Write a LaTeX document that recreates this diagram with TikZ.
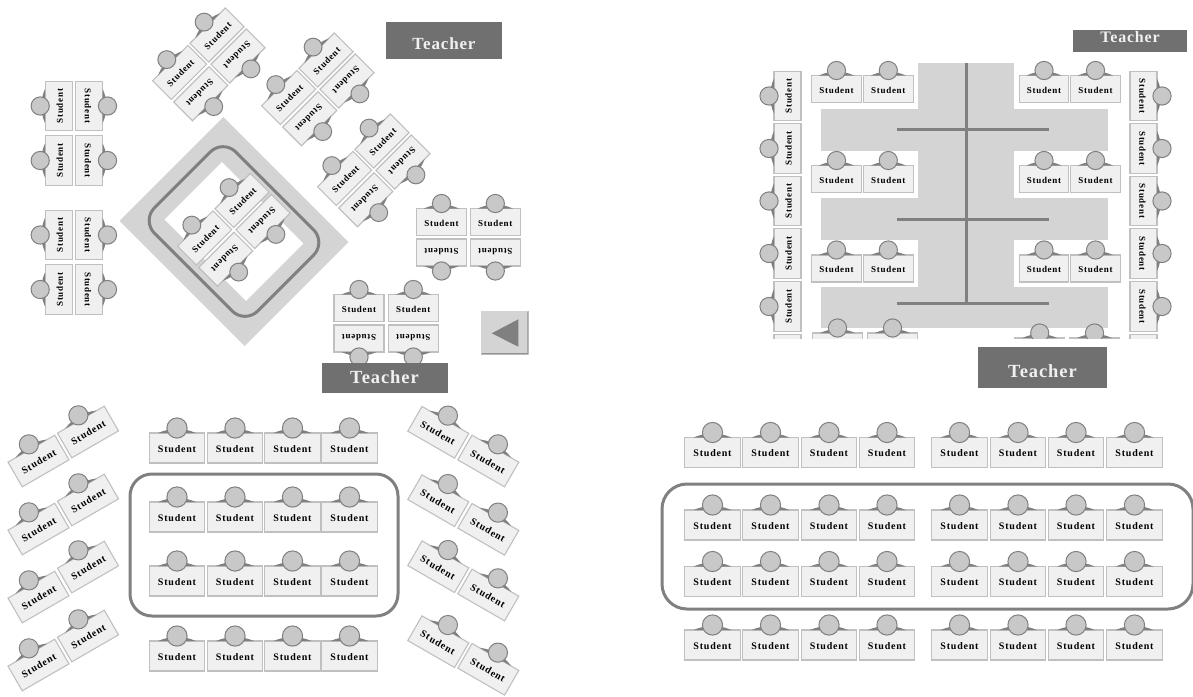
\documentclass[tikz,border=0pt]{standalone}
\usepackage{fontspec}
\newfontfamily\deskfont[LetterSpace=8]{Liberation Serif}
\newfontfamily\teachfont[LetterSpace=5]{Liberation Serif}
\definecolor{deskfill}{HTML}{F0F0F0}
\definecolor{deskline}{HTML}{C0C0C0}
\definecolor{seatfill}{HTML}{C8C8C8}
\definecolor{darkgrey}{HTML}{808080}
\definecolor{bandgrey}{HTML}{D4D4D4}
\definecolor{teachgrey}{HTML}{707070}
\newcount\deskn
\tikzset{
  deskbox/.style={draw=deskline,fill=deskfill,line width=1.1pt,inner sep=0pt,outer sep=0pt,rectangle,text=black,text height=8.4pt,text depth=0pt},
  seatdisc/.style={draw=darkgrey,fill=seatfill,line width=1pt,circle,inner sep=0pt},
  bigtext/.style={font=\deskfont\bfseries\fontsize{10}{10}\selectfont},
  midtext/.style={font=\deskfont\bfseries\fontsize{9}{9}\selectfont},
  smalltext/.style={font=\deskfont\bfseries\fontsize{9}{9}\selectfont},
  teacherbox/.style={draw=none,fill=teachgrey,rectangle,inner sep=0pt},
  teachertext/.style={inner sep=0pt,text=deskfill,font=\teachfont\bfseries\fontsize{#1}{#1}\selectfont},
  ringline/.style={draw=darkgrey,line width=3pt,rounded corners=#1,rectangle,inner sep=0pt},
  bandline/.style={draw=darkgrey,line width=3pt},
}
% x, y, rotation, width, height, text style
\newcommand{\desk}[6]{%
  \global\advance\deskn by 1
  \pgfmathsetmacro{\seatd}{(#5-27)*2/3+18.2}%
  \pgfmathsetmacro{\shw}{(#5-27)/2+17.5}%
  \begin{scope}[shift={(#1,#2)},rotate=#3]
    \node[deskbox,#6,minimum width=#4pt,minimum height=#5pt,rotate=#3] (d\the\deskn) at (0,0) {Student};
    \fill[darkgrey] (-\shw,-#5/2) .. controls (-\shw+7,-#5/2-3) and (-6,-#5/2-4) .. (0,-#5/2-4)
      .. controls (6,-#5/2-4) and (\shw-7,-#5/2-3) .. (\shw,-#5/2) -- cycle;
    \node[seatdisc,minimum size=\seatd pt] (s\the\deskn) at (0,-#5/2-5) {};
  \end{scope}}
% four desks around a centre, turned by 45 degrees
\newcommand{\cluster}[2]{%
  \desk{#1-29.3}{#2+8}{45}{50}{26.5}{midtext}
  \desk{#1+8}{#2-29.5}{45}{50}{26.5}{midtext}
  \desk{#1-8.2}{#2+29.2}{225}{50}{26.5}{midtext}
  \desk{#1+29}{#2-8.5}{225}{50}{26.5}{midtext}}
\begin{document}
\begin{tikzpicture}[x=1pt,y=-1pt]
\useasboundingbox (0,0) rectangle (1193,696);
%
% ---------- top left room
\node[fill=bandgrey,rectangle,inner sep=0pt,minimum width=147pt,minimum height=177pt,rotate=45] (outerpad) at (234,231.5) {};
\node[fill=white,rectangle,inner sep=0pt,minimum width=81pt,minimum height=115pt,rotate=45] (innerpad) at (234,231.5) {};
\node[ringline=18pt,minimum width=115pt,minimum height=146pt,rotate=45] (ring) at (234,231.5) {};
\cluster{209}{64.5}
\cluster{318}{89.5}
\cluster{374}{170.5}
\cluster{234}{230}
\foreach \yy in {106,160.5,235,289.5}{
  \desk{58.7}{\yy}{90}{49.5}{27}{smalltext}
  \desk{89}{\yy}{-90}{49.5}{27}{smalltext}
}
\desk{441.5}{222}{0}{50}{27}{smalltext}
\desk{495.3}{222}{0}{50}{27}{smalltext}
\desk{441.5}{252.5}{180}{50}{27}{smalltext}
\desk{495.3}{252.5}{180}{50}{27}{smalltext}
\desk{359}{308}{0}{50}{27}{smalltext}
\desk{413.3}{308}{0}{50}{27}{smalltext}
\desk{359}{338.5}{180}{50}{27}{smalltext}
\desk{413.3}{338.5}{180}{50}{27}{smalltext}
\node[teacherbox,minimum width=116pt,minimum height=37pt] (t1) at (444,40.5) {};
\node[teachertext=17] (t1l) at (444,44) {Teacher};
\node[teacherbox,minimum width=126pt,minimum height=30pt] (t2) at (384.7,378.3) {};
\node[teachertext=18.5] (t2l) at (384.5,377) {Teacher};
% back button
\node[fill=bandgrey,rectangle,inner sep=0pt,minimum width=47.5pt,minimum height=43.5pt] (btn) at (504.7,332.7) {};
\fill[darkgrey!85] (btn.south west) -- (btn.south east) -- (btn.north east) -- ++(-1.2,1.2) -- ++(0,41.1) -- ++(-45.1,0) -- cycle;
\coordinate (tria) at (491.7,333.3);
\coordinate (trib) at (518.3,319.3);
\coordinate (tric) at (518.3,346.7);
\fill[darkgrey] (tria) -- (trib) -- (tric) -- cycle;
%
% ---------- top right room
\begin{scope}
\clip (755,55) rectangle (1175,338.5);
\fill[bandgrey] (917.7,62.7) rectangle (1014.3,328.3);
\fill[bandgrey] (821,109.3) rectangle (1107.7,150.7);
\fill[bandgrey] (821,198) rectangle (1107.7,240);
\fill[bandgrey] (821,286.7) rectangle (1107.7,328.3);
\coordinate (va) at (966,62.7);
\coordinate (vb) at (966,303);
\draw[bandline] (va) -- (vb);
\foreach \yy/\nm in {129.7/a,219/b,303/c}{
  \coordinate (hl\nm) at (896.7,\yy);
  \coordinate (hr\nm) at (1049,\yy);
  \draw[bandline] (hl\nm) -- (hr\nm);
}
\foreach \yy in {89,179,268.5}{
  \desk{836.5}{\yy}{0}{49.5}{27}{smalltext}
  \desk{888.3}{\yy}{0}{49.5}{27}{smalltext}
  \desk{1044}{\yy}{0}{49.5}{27}{smalltext}
  \desk{1095.5}{\yy}{0}{49.5}{27}{smalltext}
}
\desk{837.5}{346.5}{0}{49.5}{27}{smalltext}
\desk{892.5}{346.5}{0}{49.5}{27}{smalltext}
\desk{1039.7}{351.5}{0}{49.5}{27}{smalltext}
\desk{1094.5}{351.5}{0}{49.5}{27}{smalltext}
\foreach \yy in {96,148.5,201,253.5,306.5,359.5}{
  \desk{787.5}{\yy}{90}{49.5}{27}{smalltext}
  \desk{1143.5}{\yy}{-90}{49.5}{27}{smalltext}
}
\end{scope}
\node[teacherbox,minimum width=114pt,minimum height=21.7pt] (t3) at (1130.3,40.8) {};
\node[teachertext=16] (t3l) at (1130,37) {Teacher};
\node[teacherbox,minimum width=129pt,minimum height=40.4pt] (t4) at (1042.8,367.5) {};
\node[teachertext=18.5] (t4l) at (1042.5,371) {Teacher};
%
% ---------- bottom left room
\node[ringline=22pt,minimum width=268pt,minimum height=142pt] (ring2) at (264,545) {};
\foreach \yy in {448,517,581,656}{
  \foreach \xx in {177,235,292.5,349.5}{
    \desk{\xx}{\yy}{0}{55.5}{30}{bigtext}
  }
}
\foreach \ya/\yb in {461/432,529/500,597/567,665/636}{
  \desk{38.5}{\ya}{30}{54}{28.5}{bigtext}
  \desk{88}{\yb}{30}{54}{28.5}{bigtext}
}
\foreach \ya/\yb in {432.3/461,500.7/529.3,566.7/595,641.7/669.3}{
  \desk{438.3}{\ya}{-30}{54}{28.5}{bigtext}
  \desk{488.3}{\yb}{-30}{54}{28.5}{bigtext}
}
%
% ---------- bottom right room
\node[ringline=25pt,minimum width=531pt,minimum height=125pt] (ring3) at (927.5,546.5) {};
\foreach \yy in {452.5,525,581.5,645}{
  \foreach \xx in {712.5,770.5,829,887,959.5,1018,1076,1134.5}{
    \desk{\xx}{\yy}{0}{55.5}{30}{bigtext}
  }
}
\end{tikzpicture}
\end{document}
